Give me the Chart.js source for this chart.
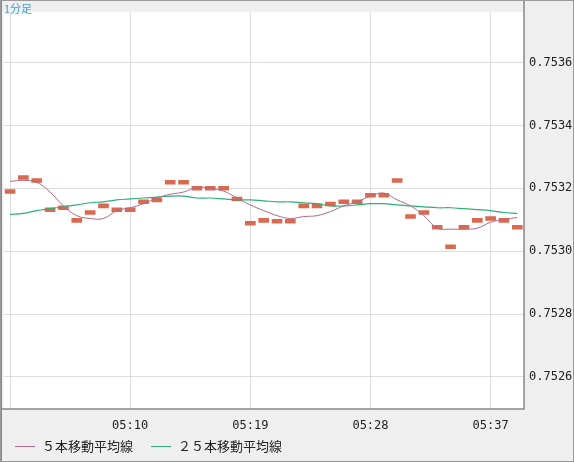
<!DOCTYPE html>
<html><head><meta charset="utf-8">
<script src="https://cdn.jsdelivr.net/npm/chart.js@4"></script>
<style>html,body{margin:0;padding:0;background:#efefef;}#w{width:574px;height:462px;}</style>
</head><body><div id="w"><canvas id="c"></canvas></div>
<script>
const times = [];
for (let m = 1; m <= 39; m++) times.push('05:' + String(m).padStart(2, '0'));
const prices = [0.75319,0.753234,0.753225,0.753132,0.753138,0.753098,0.753123,0.753144,0.753132,0.753132,
0.753157,0.753163,0.753219,0.753219,0.7532,0.7532,0.7532,0.753166,0.753089,0.753098,
0.753095,0.753095,0.753144,0.753144,0.75315,0.753157,0.753157,0.753178,0.753178,0.753225,
0.75311,0.753123,0.753076,0.753014,0.753076,0.753098,0.753104,0.753098,0.753076];
const ma5 = [0.753222,0.753225,0.753219,0.753188,0.753144,0.753113,0.753104,0.753104,0.753129,0.753138,
0.753151,0.753169,0.753181,0.753188,0.753203,0.7532,0.753191,0.753169,0.753147,0.753129,
0.753113,0.753104,0.75311,0.753113,0.753126,0.753144,0.753157,0.753175,0.753185,0.753163,
0.753144,0.753113,0.753073,0.75307,0.75307,0.753073,0.753092,0.753101,0.753107];
const ma25 = [0.753117,0.75312,0.753129,0.753135,0.753141,0.753147,0.753154,0.753157,0.753163,0.753166,
0.753169,0.753172,0.753175,0.753175,0.753169,0.753169,0.753166,0.753163,0.753163,0.75316,
0.753157,0.753157,0.753154,0.753151,0.753144,0.753144,0.753147,0.753151,0.753151,0.753147,
0.753144,0.753141,0.753138,0.753138,0.753135,0.753132,0.753129,0.753123,0.75312];
const yTicks = [0.7526,0.7528,0.7530,0.7532,0.7534,0.7536];
const xTickIdx = [9,18,27,36];
const xGridIdx = [0,9,18,27,36];
const legendItems = [['５本移動平均線','#b06a8c'],['２５本移動平均線','#2fae78']];

const half = 0.0000062;
const deco = {
  id:'deco',
  beforeDraw(ch){
    const {ctx, chartArea:a} = ch;
    ctx.save(); ctx.fillStyle='#fff'; ctx.fillRect(a.left,a.top,a.right-a.left,a.bottom-a.top); ctx.restore();
  },
  afterDraw(ch){
    const {ctx, chartArea:a} = ch;
    ctx.save();
    ctx.strokeStyle='#888'; ctx.lineWidth=2;
    ctx.beginPath(); ctx.moveTo(1,0); ctx.lineTo(1,462); ctx.stroke();
    ctx.lineWidth=1.5;
    ctx.beginPath(); ctx.moveTo(a.right,0); ctx.lineTo(a.right,a.bottom); ctx.lineTo(0,a.bottom); ctx.stroke();
    ctx.strokeStyle='#999'; ctx.lineWidth=1; ctx.strokeRect(0.5,0.5,573,461);
    ctx.fillStyle='#3ba0e0'; ctx.font='11px "Noto Sans CJK JP"'; ctx.textBaseline='top';
    ctx.fillText('1分足',4,3);
    let x = 15;
    ctx.font='13px "Noto Sans CJK JP"'; ctx.textBaseline='middle';
    legendItems.forEach(([t,c])=>{
      ctx.strokeStyle=c; ctx.lineWidth=1;
      ctx.beginPath(); ctx.moveTo(x,446.5); ctx.lineTo(x+20,446.5); ctx.stroke();
      ctx.fillStyle='#222'; ctx.fillText(t,x+27,446);
      x += 27 + ctx.measureText(t).width + 18;
    });
    ctx.restore();
  }
};

new Chart(document.getElementById('c'), {
  data: {
    labels: times,
    datasets: [
      {type:'line', data: ma5, borderColor:'#b06a8c', borderWidth:1, pointRadius:0, tension:0.4, order:1},
      {type:'line', data: ma25, borderColor:'#2fae78', borderWidth:1.2, pointRadius:0, tension:0.4, order:2},
      {type:'bar', data: prices.map(p=>[p-half,p+half]), backgroundColor:'#d9694f', barThickness:10, order:3}
    ]
  },
  options: {
    responsive:true, maintainAspectRatio:false, animation:false,
    layout:{padding:{left:2,top:0,right:0,bottom:0}, autoPadding:false},
    plugins:{legend:{display:false}, tooltip:{enabled:false}},
    scales:{
      x:{offset:true,
        grid:{offset:false, drawTicks:false, color:c=>xGridIdx.includes(c.index)?'#dddddd':'rgba(0,0,0,0)'},
        border:{display:false},
        ticks:{autoSkip:false, maxRotation:0, padding:10, color:'#222', font:{family:'DejaVu Sans Mono', size:12},
          callback:(v,i)=>xTickIdx.includes(i)?times[i]:''},
        afterFit:s=>{s.height=53;}
      },
      y:{position:'right', min:0.752498, max:0.75376,
        afterBuildTicks:s=>{s.ticks=yTicks.map(v=>({value:v}));},
        grid:{color:'#dddddd', drawTicks:false}, border:{display:false},
        ticks:{padding:5, color:'#222', font:{family:'DejaVu Sans Mono', size:12}, callback:v=>v.toFixed(4)},
        afterFit:s=>{s.width=50;}
      }
    }
  },
  plugins:[deco]
});
</script></body></html>
